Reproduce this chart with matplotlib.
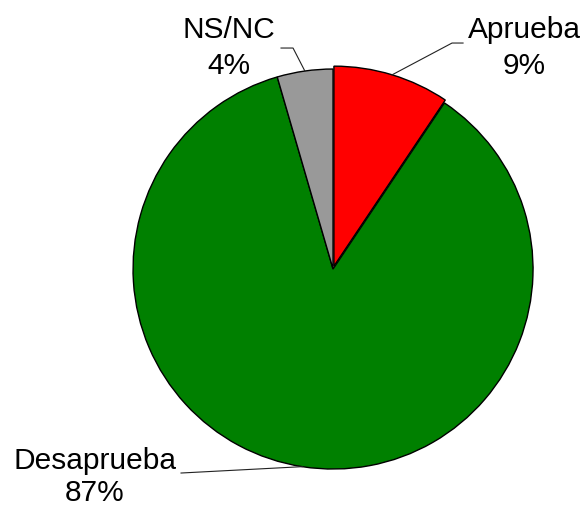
import numpy as np
import matplotlib
matplotlib.use("Agg")
import matplotlib.pyplot as plt

# Datos del grafico
categorias = ["Aprueba", "Desaprueba", "NS/NC"]
valores = [9.4, 86.1, 4.5]
etiquetas_pct = ["9%", "87%", "4%"]
colores = ["#ff0000", "#008000", "#999999"]

plt.rcParams['font.family'] = ['Liberation Sans', 'DejaVu Sans']

fig = plt.figure(figsize=(5.85, 5.06), dpi=100)
ax = fig.add_axes([0.2274, 0.0711, 0.6838, 0.7905])

wedges, _ = ax.pie(valores, colors=colores, startangle=90, counterclock=False,
                   radius=1.0, explode=[0.015, 0, 0],
                   wedgeprops=dict(edgecolor="black", linewidth=1.0))

ax.set_xlim(-1, 1)
ax.set_ylim(-1, 1)
ax.set_aspect("equal")
ax.axis("off")

# Posiciones de etiquetas y quiebre de las lineas guia
texto_pos = [(0.955, 1.11), (-1.19, -1.035), (-0.52, 1.11)]
interlineado = [1.38, 1.2, 1.38]
codo_pos = [((0.595, 1.13), (0.65, 1.13)),
            ((-0.76, -1.02), (-0.76, -1.02)),
            ((-0.2, 1.105), (-0.26, 1.105))]

for w, cat, pct, tpos, lsp, codo in zip(wedges, categorias, etiquetas_pct,
                                        texto_pos, interlineado, codo_pos):
    ang = np.deg2rad((w.theta1 + w.theta2) / 2)
    x0 = w.center[0] + 1.0 * np.cos(ang)
    y0 = w.center[1] + 1.0 * np.sin(ang)
    ax.plot([x0, codo[0][0], codo[1][0]], [y0, codo[0][1], codo[1][1]],
            color="#222222", linewidth=0.8, clip_on=False)
    ax.text(tpos[0], tpos[1], cat + "\n" + pct, ha="center", va="center",
            fontsize=21.5, linespacing=lsp)

fig.savefig("out.png", dpi=100)
